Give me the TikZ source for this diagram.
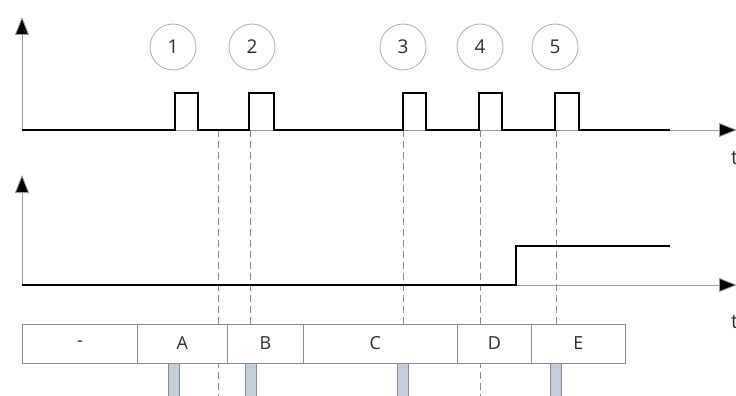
\documentclass[tikz,border=0pt]{standalone}
\usepackage{fontspec}
\setmainfont{Open Sans}
\usetikzlibrary{arrows.meta}
\definecolor{axisgray}{HTML}{9A9A9A}
\definecolor{dashgray}{HTML}{8A8A8A}
\definecolor{circgray}{HTML}{B4B4B4}
\definecolor{boxgray}{HTML}{8C8C8C}
\definecolor{barfill}{HTML}{C4CEDB}
\definecolor{txtgray}{HTML}{2E2E2E}
\tikzset{
  axis/.style={draw=axisgray, line width=0.8pt, -{Triangle[width=14pt,length=18pt,fill=black]}},
  signal/.style={draw=black, line width=2.4pt, line join=miter},
  marker/.style={draw=dashgray, line width=0.7pt, dash pattern=on 7pt off 4pt},
  numcirc/.style={circle, draw=circgray, line width=0.9pt, minimum size=46pt, inner sep=0pt, text=txtgray, font=\fontsize{19}{22}\selectfont},
  statebox/.style={draw=boxgray, fill=white, line width=0.8pt, minimum height=39pt, inner sep=0pt, anchor=west, text=txtgray, font=\fontsize{18}{21}\selectfont},
  bar/.style={draw=boxgray, fill=barfill, line width=0.6pt},
  tlabel/.style={anchor=west, inner sep=0pt, text=txtgray, font=\fontsize{20}{22}\selectfont}
}
\begin{document}
\begin{tikzpicture}[x=1pt,y=-1pt]
\useasboundingbox (0,0) rectangle (736,396);

% axes
\coordinate (o1) at (22,130);
\coordinate (y1) at (22,17);
\coordinate (x1) at (737,130);
\coordinate (o2) at (22,285);
\coordinate (y2) at (22,175);
\coordinate (x2) at (737,285);
\draw[axis] (o1) -- (y1);
\draw[axis] (o1) -- (x1);
\draw[axis] (o2) -- (y2);
\draw[axis] (o2) -- (x2);
\node[tlabel] (t1) at (731,158) {t};
\node[tlabel] (t2) at (731,322) {t};

% dashed markers
\foreach \x/\n in {218/a,250/b,403/c,480/d,556/e}{
  \coordinate (m\n top) at (\x,130);
  \coordinate (m\n bot) at (\x,396);
  \draw[marker] (m\n top) -- (m\n bot);
}

% top signal
\draw[signal] (22,130) -- (175,130) -- (175,93) -- (198,93) -- (198,130)
  -- (249,130) -- (249,93) -- (274,93) -- (274,130)
  -- (403,130) -- (403,93) -- (426,93) -- (426,130)
  -- (479,130) -- (479,93) -- (502,93) -- (502,130)
  -- (555,130) -- (555,93) -- (579,93) -- (579,130) -- (670,130);

% bottom signal
\draw[signal] (22,285) -- (516,285) -- (516,246) -- (670,246);

% numbered circles
\node[numcirc] (c1) at (173,47) {1};
\node[numcirc] (c2) at (252,47) {2};
\node[numcirc] (c3) at (403,47) {3};
\node[numcirc] (c4) at (480,47) {4};
\node[numcirc] (c5) at (555,47) {5};

% state boxes
\node[statebox, minimum width=115pt] (s0) at (22,343.5) {-};
\node[statebox, minimum width=90pt]  (sA) at (137,343.5) {A};
\node[statebox, minimum width=76pt]  (sB) at (227,343.5) {B};
\node[statebox, minimum width=154pt] (sC) at (303,343.5) {\hspace*{-10pt}C};
\node[statebox, minimum width=74pt]  (sD) at (457,343.5) {D};
\node[statebox, minimum width=94pt]  (sE) at (531,343.5) {E};

% bars
\foreach \x in {174,251,403,556}{
  \draw[bar] (\x-5.5,363) rectangle (\x+5.5,398);
}
\end{tikzpicture}
\end{document}
